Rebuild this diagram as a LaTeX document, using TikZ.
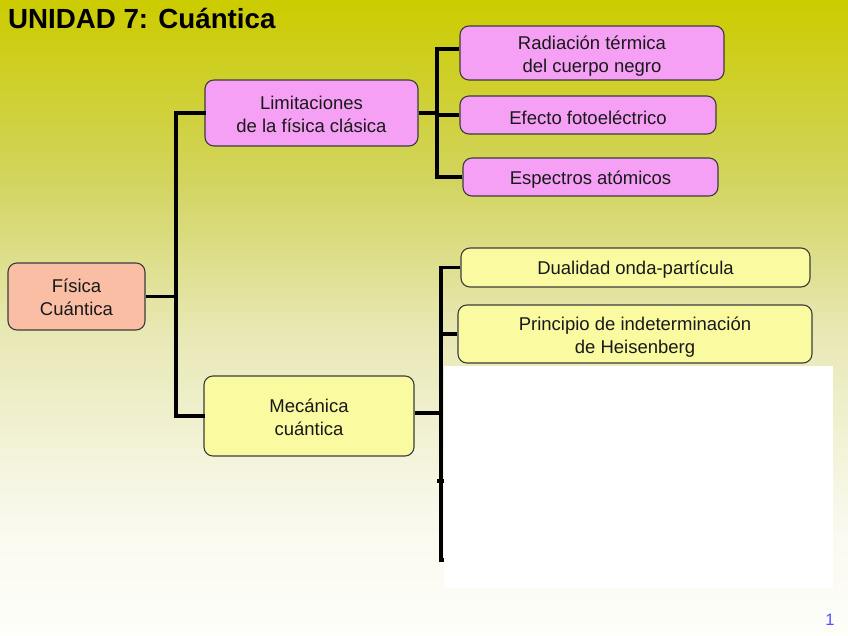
\documentclass[tikz,border=0pt]{standalone}
\usepackage{fontspec}
\setmainfont{Liberation Sans}
\definecolor{bga}{RGB}{204,204,0}
\definecolor{bgb}{RGB}{210,212,95}
\definecolor{bgc}{RGB}{232,232,180}
\definecolor{bgd}{RGB}{249,249,238}
\definecolor{bge}{RGB}{254,254,250}
\definecolor{salmon}{RGB}{250,190,165}
\definecolor{violet}{RGB}{245,160,245}
\definecolor{lyellow}{RGB}{250,250,160}
\definecolor{bordc}{RGB}{60,60,60}
\definecolor{txtc}{RGB}{25,25,25}
\definecolor{pgnum}{RGB}{80,80,255}
\tikzset{
  box/.style={draw=bordc, line width=1.1pt, rounded corners=9pt, inner sep=0pt},
  lbl/.style={align=center, inner sep=0pt, text=txtc, font=\fontsize{18.5}{23}\selectfont},
  conn/.style={line width=3.3pt, black}
}
\begin{document}
\begin{tikzpicture}[x=1pt,y=-1pt]
\useasboundingbox (0,0) rectangle (848,636);
\shade[top color=bga, bottom color=bgb] (0,0) rectangle (848,180.5);
\shade[top color=bgb, bottom color=bgc] (0,180) rectangle (848,330.5);
\shade[top color=bgc, bottom color=bgd] (0,330) rectangle (848,520.5);
\shade[top color=bgd, bottom color=bge] (0,520) rectangle (848,636);
\node[anchor=base west, font=\fontsize{27.7}{30}\selectfont\bfseries, text=black, inner sep=0pt] (title) at (8,29) {UNIDAD 7: Cuántica};
\node[anchor=base, font=\fontsize{16.5}{18}\selectfont, text=pgnum, inner sep=0pt] (pg) at (830,625) {1};

\node[box, fill=salmon, minimum width=137pt, minimum height=67pt,
  label={[lbl, yshift=-0.5pt]center:Física\\Cuántica}] (fis) at (76.5,296.5) {};
\node[box, fill=violet, minimum width=213pt, minimum height=66pt,
  label={[lbl, yshift=-1.5pt]center:Limitaciones\\de la física clásica}] (lim) at (311.5,113) {};
\node[box, fill=violet, minimum width=264pt, minimum height=54pt,
  label={[lbl, yshift=-3pt]center:Radiación térmica\\del cuerpo negro}] (rad) at (592,53) {};
\node[box, fill=violet, minimum width=256pt, minimum height=38pt,
  label={[lbl, yshift=-2.5pt]center:Efecto fotoeléctrico}] (efe) at (588,115) {};
\node[box, fill=violet, minimum width=255pt, minimum height=38pt,
  label={[lbl, yshift=-3pt]center:Espectros atómicos}] (esp) at (590.5,177) {};
\node[box, fill=lyellow, minimum width=349pt, minimum height=39pt,
  label={[lbl, yshift=-2.5pt]center:Dualidad onda-partícula}] (dua) at (635.5,267.5) {};
\node[box, fill=lyellow, minimum width=354pt, minimum height=58pt,
  label={[lbl, yshift=-3pt]center:Principio de indeterminación\\de Heisenberg}] (pri) at (635,334) {};
\node[box, fill=lyellow, minimum width=210pt, minimum height=80pt,
  label={[lbl, yshift=-1pt]center:Mecánica\\cuántica}] (mec) at (309,416) {};

\coordinate (j1) at (176,296.5);
\coordinate (j2) at (437,113);
\coordinate (j3) at (441,413);
\coordinate (t1w) at (437,481);
\coordinate (t1e) at (450,481);
\coordinate (t2e) at (450,560);

\draw[conn] (fis.east) -- (j1);
\draw[conn, line cap=rect] (lim.west) -| (j1);
\draw[conn, line cap=rect] (mec.west) -| (j1);
\draw[conn] (lim.east) -- (j2);
\draw[conn] ([yshift=4pt]rad.west) -| (j2);
\draw[conn] (efe.west) -| (j2);
\draw[conn] (esp.west) -| (j2);
\draw[conn] ([yshift=3pt]mec.east) -- (j3);
\draw[conn] (dua.west) -| (j3);
\draw[conn] (pri.west) -| (j3);
\draw[conn] (j3) |- (t2e);
\draw[conn] (t1w) -- (t1e);

\fill[white] (444,366) rectangle (833,588);
\end{tikzpicture}
\end{document}
